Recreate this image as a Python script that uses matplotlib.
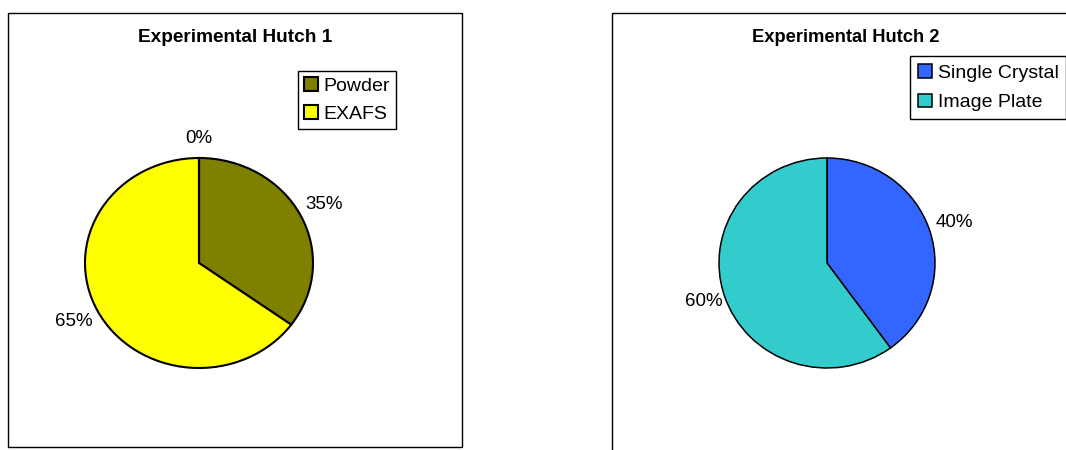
import numpy as np
import matplotlib
matplotlib.use('Agg')
import matplotlib.pyplot as plt
from matplotlib.patches import Rectangle

plt.rcParams['font.family'] = ['Liberation Sans', 'DejaVu Sans']

# Experimental Hutch 1 (last entry is an empty category, shown only as 0%)
hutch1_names = ['Powder', 'EXAFS', '']
hutch1_values = [35, 65, 0]
hutch1_colors = ['#808000', '#FFFF00', '#FFFFFF']

# Experimental Hutch 2
hutch2_names = ['Single Crystal', 'Image Plate']
hutch2_values = [40, 60]
hutch2_colors = ['#3366FF', '#33CCCC']

W, H = 1066, 450
fig = plt.figure(figsize=(W / 100, H / 100), dpi=100)


def px_rect(x0, y0, x1, y1):
    # pixel box with top-left origin -> figure fraction [l, b, w, h]
    return [x0 / W, 1 - y1 / H, (x1 - x0) / W, (y1 - y0) / H]


def draw_pie(rect, values, colors, lw, label_dist):
    ax = fig.add_axes(rect)
    wedges, _ = ax.pie(values, colors=colors, startangle=90, counterclock=False,
                       wedgeprops=dict(edgecolor='black', linewidth=lw))
    ax.set_aspect('auto')
    ax.set_xlim(-1, 1)
    ax.set_ylim(-1, 1)
    for w in wedges:
        w.set_clip_on(False)
    total = float(sum(values))
    for w, v, d in zip(wedges, values, label_dist):
        mid = np.deg2rad((w.theta1 + w.theta2) / 2)
        ax.text(d * np.cos(mid), d * np.sin(mid), '{:.0f}%'.format(100 * v / total),
                ha='center', va='center', fontsize=13.5, clip_on=False)
    return ax, wedges


def add_legend(ax, handles, names, x, y, pad, spacing):
    ax.legend(handles, names, loc='upper left', bbox_to_anchor=(x / W, 1 - y / H),
              bbox_transform=fig.transFigure, frameon=True, fancybox=False,
              edgecolor='black', framealpha=1, fontsize=14, handlelength=0.72,
              handleheight=0.72, handletextpad=0.3, borderpad=pad,
              labelspacing=spacing, borderaxespad=0)


# panel borders
fig.add_artist(Rectangle((8 / W, 3 / H), 454 / W, 434 / H, transform=fig.transFigure,
                         fill=False, edgecolor='black', linewidth=1))
fig.add_artist(Rectangle((612 / W, -10 / H), 470 / W, 447 / H, transform=fig.transFigure,
                         fill=False, edgecolor='black', linewidth=1))

# left pie
ax1, w1 = draw_pie(px_rect(85, 158, 313, 368), hutch1_values, hutch1_colors, 1.5,
                   [1.23, 1.23, 1.19])
add_legend(ax1, w1[:2], hutch1_names[:2], 298, 71, 0.3, 0.55)
fig.text(235 / W, 1 - 37 / H, 'Experimental Hutch 1', ha='center', va='center',
         fontsize=13.7, fontweight='bold')

# right pie
ax2, w2 = draw_pie(px_rect(719, 158, 935, 368), hutch2_values, hutch2_colors, 1.1,
                   [1.24, 1.2])
add_legend(ax2, w2, hutch2_names, 910, 56, 0.4, 0.62)
fig.text(846 / W, 1 - 37 / H, 'Experimental Hutch 2', ha='center', va='center',
         fontsize=13.2, fontweight='bold')

fig.savefig('out.png', dpi=100)
